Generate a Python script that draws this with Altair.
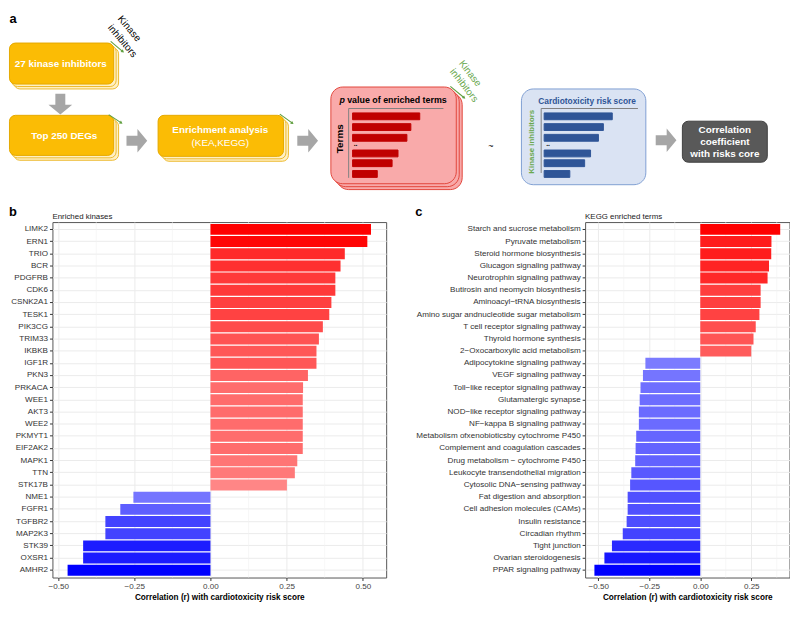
import math
import altair as alt
import pandas as pd

FONT = "Liberation Sans"

# ---------------- panel b : enriched kinases ----------------
kinases = ["LIMK2", "ERN1", "TRIO", "BCR", "PDGFRB", "CDK6", "CSNK2A1", "TESK1",
           "PIK3CG", "TRIM33", "IKBKB", "IGF1R", "PKN3", "PRKACA", "WEE1", "AKT3",
           "WEE2", "PKMYT1", "EIF2AK2", "MAPK1", "TTN", "STK17B", "NME1", "FGFR1",
           "TGFBR2", "MAP2K3", "STK39", "OXSR1", "AMHR2"]
kinase_r = [0.527, 0.515, 0.441, 0.427, 0.410, 0.410, 0.397, 0.390, 0.369, 0.356,
            0.348, 0.348, 0.320, 0.304, 0.303, 0.303, 0.303, 0.303, 0.303, 0.285,
            0.277, 0.251, -0.253, -0.296, -0.345, -0.345, -0.418, -0.418, -0.469]

# ---------------- panel c : KEGG enriched terms ----------------
kegg_terms = ["Starch and sucrose metabolism", "Pyruvate metabolism",
              "Steroid hormone biosynthesis", "Glucagon signaling pathway",
              "Neurotrophin signaling pathway", "Butirosin and neomycin biosynthesis",
              "Aminoacyl\u2212tRNA biosynthesis", "Amino sugar andnucleotide sugar metabolism",
              "T cell receptor signaling pathway", "Thyroid hormone synthesis",
              "2\u2212Oxocarboxylic acid metabolism", "Adipocytokine signaling pathway",
              "VEGF signaling pathway", "Toll\u2212like receptor signaling pathway",
              "Glutamatergic synapse", "NOD\u2212like receptor signaling pathway",
              "NF\u2212kappa B signaling pathway", "Metabolism ofxenobioticsby cytochrome P450",
              "Complement and coagulation cascades", "Drug metabolism \u2212 cytochrome P450",
              "Leukocyte transendothelial migration", "Cytosolic DNA\u2212sensing pathway",
              "Fat digestion and absorption", "Cell adhesion molecules (CAMs)",
              "Insulin resistance", "Circadian rhythm", "Tight junction",
              "Ovarian steroidogenesis", "PPAR signaling pathway"]
kegg_r = [0.392, 0.349, 0.348, 0.337, 0.330, 0.296, 0.296, 0.290, 0.272, 0.261, 0.250,
          -0.269, -0.281, -0.293, -0.297, -0.301, -0.301, -0.314, -0.317, -0.319,
          -0.338, -0.344, -0.356, -0.356, -0.361, -0.380, -0.433, -0.470, -0.519]

major_ticks = [-0.5, -0.25, 0.0, 0.25, 0.5]
minor_ticks = [-0.375, -0.125, 0.125, 0.375]
panel_titles = ["Enriched kinases", "KEGG enriched terms"]
axis_title = "Correlation (r) with cardiotoxicity risk score"

# ---------------- panel a : schematic (layout in pixel units) ----------------
yellow_boxes = [  # x0, y0, x1, y1, layer
    (13, 39, 119, 81, "back"), (10.5, 36.5, 116.5, 78.5, "back"), (8.5, 34, 114, 76, "front"),
    (13, 113, 119, 154, "back"), (10.5, 110.5, 116.5, 151.5, "back"), (8.5, 108, 114, 149, "front"),
    (164, 113, 291, 155, "back"), (161.5, 110.5, 288.5, 152.5, "back"), (159, 108, 286, 150, "front"),
]
yellow_style = {"back": ("#FFF0C4", "#EDBA2E"), "front": ("#FBBC05", "#E5A900")}
round_boxes = [  # x0, y0, x1, y1, fill, stroke
    (340, 85, 467, 184, "#F8A9A9", "#E2463C"),
    (337, 82, 464, 181, "#F8A9A9", "#E2463C"),
    (334, 79, 461, 178, "#F9AAAA", "#E2463C"),
    (527, 81, 653, 179, "#DAE3F3", "#7F9ED2"),
]
dark_box = [(690, 114, 776, 156, "#595959", "#3F3F3F")]

mini_row_y = [109, 120, 131, 147, 157, 168]
red_bar_ends = [424, 415, 411, 402, 396, 381]
blue_bar_ends = [619, 610, 605, 597, 591, 576]
mini_axes = [  # x0, y0, x1, y1
    (352, 101, 448, 101), (352, 101, 352, 172),
    (547, 101, 645, 101), (547, 101, 547, 167),
]
green_arrows = [(111, 32.3, 123.3, 42.7), (109, 107.3, 121.7, 115.7),
                (282.3, 106.7, 295, 116), (455, 78.3, 469, 90)]
gray_arrows = [(60, 96.5, 90), (137.5, 134, 0), (310.5, 134, 0), (673.5, 133.5, 0)]

bold_center_txt = [
    ("27 kinase inhibitors", 60.5, 55, "white", 10, 0),
    ("Top 250 DEGs", 64, 129.5, "white", 10, 0),
    ("Enrichment analysis", 222, 123.5, "white", 10, 0),
    ("Terms", 343, 132, "black", 10, 270),
    ("Cardiotoxicity risk score", 593.5, 93, "#2F5597", 8.5, 0),
    ("Kinase inhibitors", 538, 135, "#6AA84F", 8, 270),
    ("Correlation", 733, 123, "white", 10, 0),
    ("coefficient", 733, 135, "white", 10, 0),
    ("with risks core", 733, 147.5, "white", 10, 0),
    ("..", 359, 137, "black", 7, 0),
    ("..", 554, 137, "black", 7, 0),
]
normal_center_txt = [
    ("(KEA,KEGG)", 222, 136.5, "white", 10, 0),
    ("~", 496, 139, "black", 9, 0),
]
normal_left_txt = [
    ("Kinase", 120, 7.5, "black", 10, 50),
    ("inhibitors", 110, 16.5, "black", 10, 50),
    ("Kinase", 465.5, 53, "#6AA84F", 10, 52),
    ("inhibitors", 456.5, 61.5, "#6AA84F", 10, 52),
]
bold_left_txt = [
    ("a", 8.5, 9, "black", 13, 0),
    ("value of enriched terms", 350.5, 92.5, "black", 9, 0),
]
italic_left_txt = [("p", 342.7, 92.5, "black", 9, 0)]

ARROW = "M-0.875,-0.42 L0.05,-0.42 L0.05,-1 L0.875,0 L0.05,1 L0.05,0.42 L-0.875,0.42 Z"

LEFT = 44          # room taken by the y labels of panel b
TOP_W, TOP_H = 790 - LEFT, 188
sx = alt.Scale(domain=[8 + LEFT, 798], nice=False, zero=False)
sy = alt.Scale(domain=[3, 193], nice=False, zero=False, reverse=True)


def X(f):
    return alt.X(f, type="quantitative", scale=sx, axis=None)


def Y(f):
    return alt.Y(f, type="quantitative", scale=sy, axis=None)


def rect_layer(df, radius):
    return alt.Chart(df).mark_rect(cornerRadius=radius, strokeWidth=1).encode(
        x=X("x0"), x2="x1", y=Y("y0"), y2="y1",
        fill=alt.Fill("fill:N", scale=None), stroke=alt.Stroke("stroke:N", scale=None))


def text_layer(rows, **mk):
    df = pd.DataFrame(rows, columns=["t", "x", "y", "c", "s", "a"])
    return alt.Chart(df).mark_text(font=FONT, baseline="middle", **mk).encode(
        x=X("x"), y=Y("y"), text="t:N",
        color=alt.Color("c:N", scale=None),
        size=alt.Size("s:Q", scale=None),
        angle=alt.Angle("a:Q", scale=None))


ydf = pd.DataFrame(yellow_boxes, columns=["x0", "y0", "x1", "y1", "kind"])
ydf["fill"] = [yellow_style[k][0] for k in ydf["kind"]]
ydf["stroke"] = [yellow_style[k][1] for k in ydf["kind"]]
rdf = pd.DataFrame(round_boxes, columns=["x0", "y0", "x1", "y1", "fill", "stroke"])
ddf = pd.DataFrame(dark_box, columns=["x0", "y0", "x1", "y1", "fill", "stroke"])

mini = pd.DataFrame({
    "x0": [356] * len(red_bar_ends) + [550] * len(blue_bar_ends),
    "x1": red_bar_ends + blue_bar_ends,
    "y0": [v - 3.5 for v in mini_row_y] * 2,
    "y1": [v + 3.5 for v in mini_row_y] * 2,
    "fill": ["#C00000"] * len(red_bar_ends) + ["#2F5597"] * len(blue_bar_ends),
})
mini["stroke"] = mini["fill"]

axdf = pd.DataFrame(mini_axes, columns=["x0", "y0", "x1", "y1"])
axes_layer = alt.Chart(axdf).mark_rule(color="#808080", strokeWidth=1).encode(
    x=X("x0"), x2="x1", y=Y("y0"), y2="y1")

gdf = pd.DataFrame(green_arrows, columns=["x0", "y0", "x1", "y1"])
gdf["ang"] = [math.degrees(math.atan2(b - a, d - c))
              for a, b, c, d in zip(gdf["y0"], gdf["y1"], gdf["x0"], gdf["x1"])]
green_lines = alt.Chart(gdf).mark_rule(color="#5E9E3E", strokeWidth=1.1).encode(
    x=X("x0"), x2="x1", y=Y("y0"), y2="y1")
green_heads = alt.Chart(gdf).mark_point(shape="triangle-right", filled=True, size=12,
                                        color="#5E9E3E", opacity=1).encode(
    x=X("x1"), y=Y("y1"), angle=alt.Angle("ang:Q", scale=None))

adf = pd.DataFrame(gray_arrows, columns=["x", "y", "ang"])
gray_layer = alt.Chart(adf).mark_point(shape=ARROW, filled=True, size=576,
                                       color="#A6A6A6", opacity=1, strokeWidth=0).encode(
    x=X("x"), y=Y("y"), angle=alt.Angle("ang:Q", scale=None))

top = alt.layer(
    rect_layer(ydf, 6),
    rect_layer(rdf, 12),
    rect_layer(ddf, 6),
    rect_layer(mini, 0),
    axes_layer,
    green_lines, green_heads, gray_layer,
    text_layer(bold_center_txt, fontWeight="bold", align="center"),
    text_layer(normal_center_txt, align="center"),
    text_layer(normal_left_txt, align="left"),
    text_layer(bold_left_txt, fontWeight="bold", align="left"),
    text_layer(italic_left_txt, fontWeight="bold", fontStyle="italic", align="left"),
).properties(width=TOP_W, height=TOP_H, view=alt.ViewBackground(stroke="transparent"))


# ---------------- bar panels ----------------
def panel(names, vals, letter, subtitle, width, letter_x):
    lo, hi = min(vals), max(vals)
    ext = 0.05 * (hi - lo)
    dom = [lo - ext, hi + ext]
    xs = alt.Scale(domain=dom, nice=False, zero=False)
    majors = [v for v in major_ticks if dom[0] <= v <= dom[1]]
    x_axis = alt.Axis(
        values=majors, format=".2f", title=axis_title, titleFont=FONT, titleFontSize=8.3,
        titleFontWeight="bold", titleColor="black", titlePadding=3,
        labelFont=FONT, labelFontSize=8.2, labelColor="#444444", labelPadding=2,
        labelFlush=False, tickSize=3, tickColor="#333333", domain=False, grid=True,
        gridColor="#EBEBEB", gridWidth=1)
    df = pd.DataFrame({"name": names, "r": vals})
    minor = pd.DataFrame({"r": [v for v in minor_ticks if dom[0] < v < dom[1]]})
    grid = alt.Chart(minor).mark_rule(color="#F2F2F2", strokeWidth=0.6).encode(
        x=alt.X("r:Q", scale=xs, axis=x_axis))
    bars = alt.Chart(df).mark_bar().encode(
        x=alt.X("r:Q", scale=xs, axis=x_axis),
        y=alt.Y("name:N", sort=names,
                scale=alt.Scale(paddingInner=0.1, paddingOuter=0.15),
                axis=alt.Axis(title=None, labelFont=FONT, labelFontSize=8.2,
                              labelColor="#333333", labelPadding=2, labelLimit=400,
                              tickSize=3, tickColor="#333333", domain=False, grid=True,
                              gridColor="#EBEBEB", gridWidth=1, bandPosition=0.5)),
        color=alt.Color("r:Q", scale=alt.Scale(domain=[lo, 0, hi],
                                               range=["#0000FF", "#FFFFFF", "#FF0000"],
                                               interpolate="rgb"), legend=None),
    )
    lab = alt.Chart(pd.DataFrame({"t": [letter]})).mark_text(
        font=FONT, fontSize=13, fontWeight="bold", align="left",
        baseline="alphabetic", color="black").encode(
        text="t:N", x=alt.value(letter_x), y=alt.value(-6))
    sub = alt.Chart(pd.DataFrame({"t": [subtitle]})).mark_text(
        font=FONT, fontSize=8, align="left", baseline="alphabetic",
        color="#1A1A1A").encode(text="t:N", x=alt.value(0), y=alt.value(-3.5))
    return alt.layer(grid, bars, lab, sub).properties(width=width, height=360)


pb = panel(kinases, kinase_r, "b", panel_titles[0], 338, -LEFT)
pc = panel(kegg_terms, kegg_r, "c", panel_titles[1], 207, -172)

bottom = alt.hconcat(pb, pc, spacing=27.5).resolve_scale(color="independent")
chart = alt.concat(top, bottom, columns=1, spacing=6, align="none").properties(
    padding=0).configure(font=FONT).configure_axis(
    labelFont=FONT, titleFont=FONT).configure_view(stroke="#555555", strokeWidth=1)

chart.save("out.html", embed_options={"renderer": "svg", "actions": False})
